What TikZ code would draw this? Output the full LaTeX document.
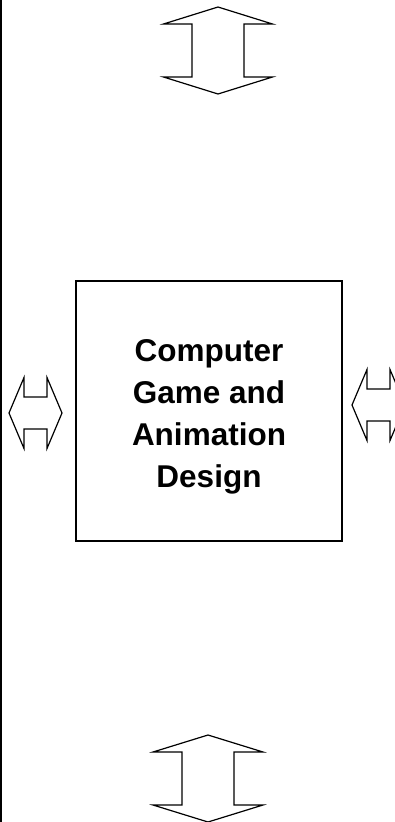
\documentclass[tikz,border=0pt]{standalone}
\usepackage{fontspec}
\setmainfont{Liberation Sans}
\begin{document}
\begin{tikzpicture}[x=1pt,y=-1pt,
  arrowline/.style={draw=black,line width=1.2pt,line join=miter,fill=white},
  pics/vdbl/.style n args={4}{code={
    \path[arrowline] (0,-#1) -- (#3,-#1+#2) -- (#4,-#1+#2) -- (#4,#1-#2) -- (#3,#1-#2)
      -- (0,#1) -- (-#3,#1-#2) -- (-#4,#1-#2) -- (-#4,-#1+#2) -- (-#3,-#1+#2) -- cycle;}},
  pics/hdbl/.style n args={4}{code={
    \path[arrowline] (-#1,0) -- (-#1+#2,-#3) -- (-#1+#2,-#4) -- (#1-#2,-#4) -- (#1-#2,-#3)
      -- (#1,0) -- (#1-#2,#3) -- (#1-#2,#4) -- (-#1+#2,#4) -- (-#1+#2,#3) -- cycle;}},
  boxstyle/.style={draw=black,line width=1.5pt,minimum width=266pt,minimum height=260pt,
    inner sep=0pt},
  labelstyle/.style={inner sep=0pt,align=center,font=\fontsize{31.5}{42}\selectfont\bfseries}
]
\useasboundingbox (0,0) rectangle (395,822);
\clip (0,0) rectangle (395,822);
\fill[white] (0,0) rectangle (395,822);
\coordinate (lt) at (1,0);
\coordinate (lb) at (1,822);
\draw[line width=2pt] (lt) -- (lb);
\node[boxstyle] (box) at (209,411) {};
\node[labelstyle] (label) at (209,417) {Computer\\Game and\\Animation\\Design};
\pic (toparrow) at (218,50.5) {vdbl={43.5}{17}{54.5}{26}};
\pic (botarrow) at (208,778.5) {vdbl={43.5}{17}{55}{26}};
\pic (leftarrow) at (35.5,413) {hdbl={26.5}{15}{35.5}{16}};
\pic (rightarrow) at (378.5,405) {hdbl={26.5}{15}{35.5}{16}};
\end{tikzpicture}
\end{document}
